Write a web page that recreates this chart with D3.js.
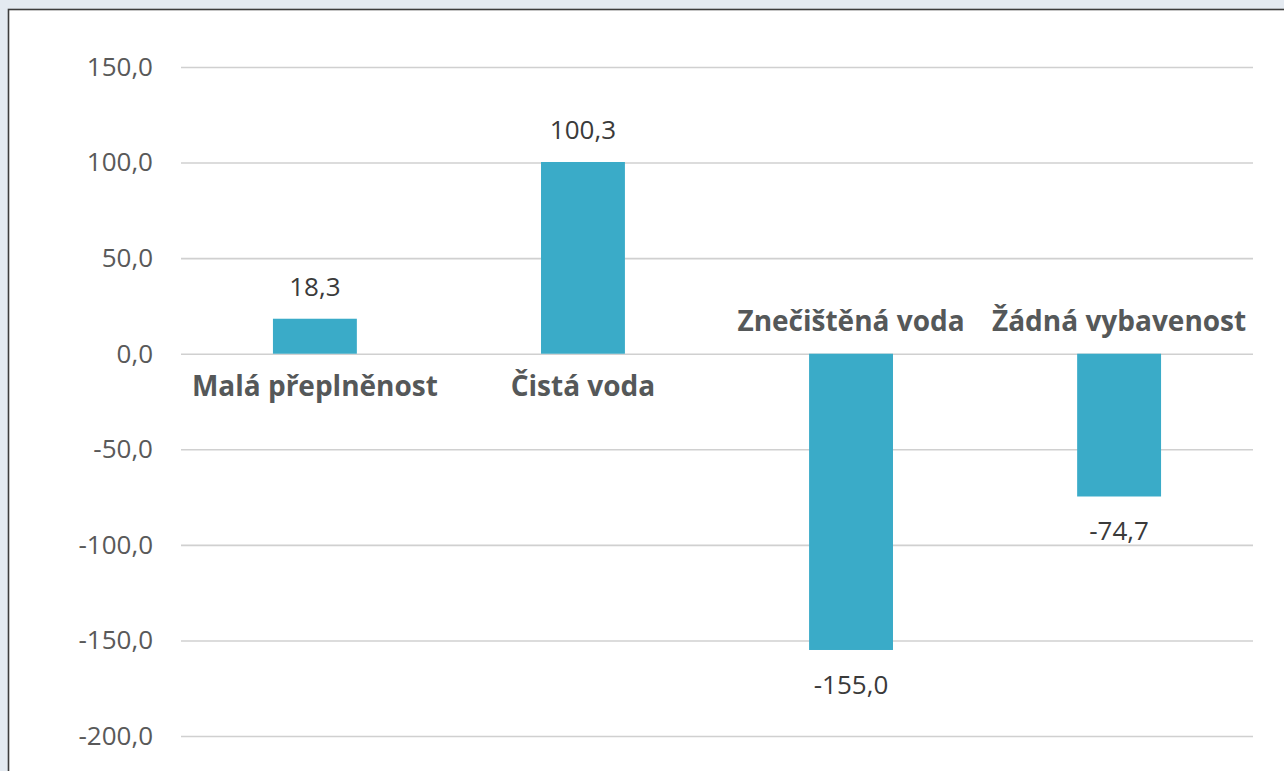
<!DOCTYPE html>
<html>
<head>
<meta charset="utf-8">
<script src="https://cdn.jsdelivr.net/npm/d3@7"></script>
<style>
  html, body { margin: 0; padding: 0; background: #e4eaf1; }
  svg { display: block; }
</style>
</head>
<body>
<div id="chart"></div>
<script>
const width = 1284;
const height = 771;

const categories = ["Malá přeplněnost", "Čistá voda", "Znečištěná voda", "Žádná vybavenost"];
const values = [18.3, 100.3, -155.0, -74.7];
const tickValues = [150, 100, 50, 0, -50, -100, -150, -200];

const margin = { left: 181, right: 31, top: 67, bottom: 35 };
const barColor = "#3aabc8";
const fmt = v => d3.format(".1f")(v).replace(".", ",").replace("−", "-");

let svg = d3.select("#chart")
            .append("svg")
            .attr("width", width)
            .attr("height", height);

// white panel with dark frame
svg.append("rect")
   .attr("x", 8.5)
   .attr("y", 9.5)
   .attr("width", width)
   .attr("height", height)
   .attr("fill", "#fff")
   .attr("stroke", "#3d3d3d")
   .attr("stroke-width", 1.6);

let x = d3.scaleBand()
          .domain(categories)
          .range([margin.left, width - margin.right])
          .paddingInner(0.687)
          .paddingOuter(0.343);

let y = d3.scaleLinear()
          .domain([-200, 150])
          .range([height - margin.bottom, margin.top]);

let yAxis = d3.axisLeft(y)
              .tickValues(tickValues)
              .tickSize(-(width - margin.right - margin.left))
              .tickPadding(28)
              .tickFormat(fmt);

let axisG = svg.append("g")
   .attr("transform", `translate(${margin.left},0)`)
   .call(yAxis);

axisG.select(".domain").remove();
axisG.selectAll(".tick line")
     .attr("stroke", "#d0d0d0")
     .attr("stroke-width", 1.6);
axisG.selectAll(".tick text")
     .attr("fill", "#595959")
     .style("font-family", "'Open Sans', sans-serif")
     .style("font-size", "26px");

svg.selectAll(".bar")
   .data(values)
   .enter()
   .append("rect")
   .attr("class", "bar")
   .attr("x", (d, i) => x(categories[i]))
   .attr("width", x.bandwidth())
   .attr("y", d => y(Math.max(0, d)))
   .attr("height", d => Math.abs(y(d) - y(0)))
   .attr("fill", barColor);

// value labels
svg.selectAll(".val")
   .data(values)
   .enter()
   .append("text")
   .attr("class", "val")
   .attr("x", (d, i) => x(categories[i]) + x.bandwidth() / 2)
   .attr("y", d => d >= 0 ? y(d) - 23 : y(d) + 44)
   .attr("text-anchor", "middle")
   .attr("fill", "#3a3a3a")
   .style("font-family", "'Open Sans', sans-serif")
   .style("font-size", "26px")
   .text(fmt);

// category labels
svg.selectAll(".cat")
   .data(values)
   .enter()
   .append("text")
   .attr("class", "cat")
   .attr("x", (d, i) => x(categories[i]) + x.bandwidth() / 2)
   .attr("y", d => d >= 0 ? y(0) + 42 : y(0) - 23)
   .attr("text-anchor", "middle")
   .attr("fill", "#555859")
   .style("font-family", "'Open Sans', sans-serif")
   .style("font-weight", "bold")
   .style("font-size", "28px")
   .text((d, i) => categories[i]);
</script>
</body>
</html>
